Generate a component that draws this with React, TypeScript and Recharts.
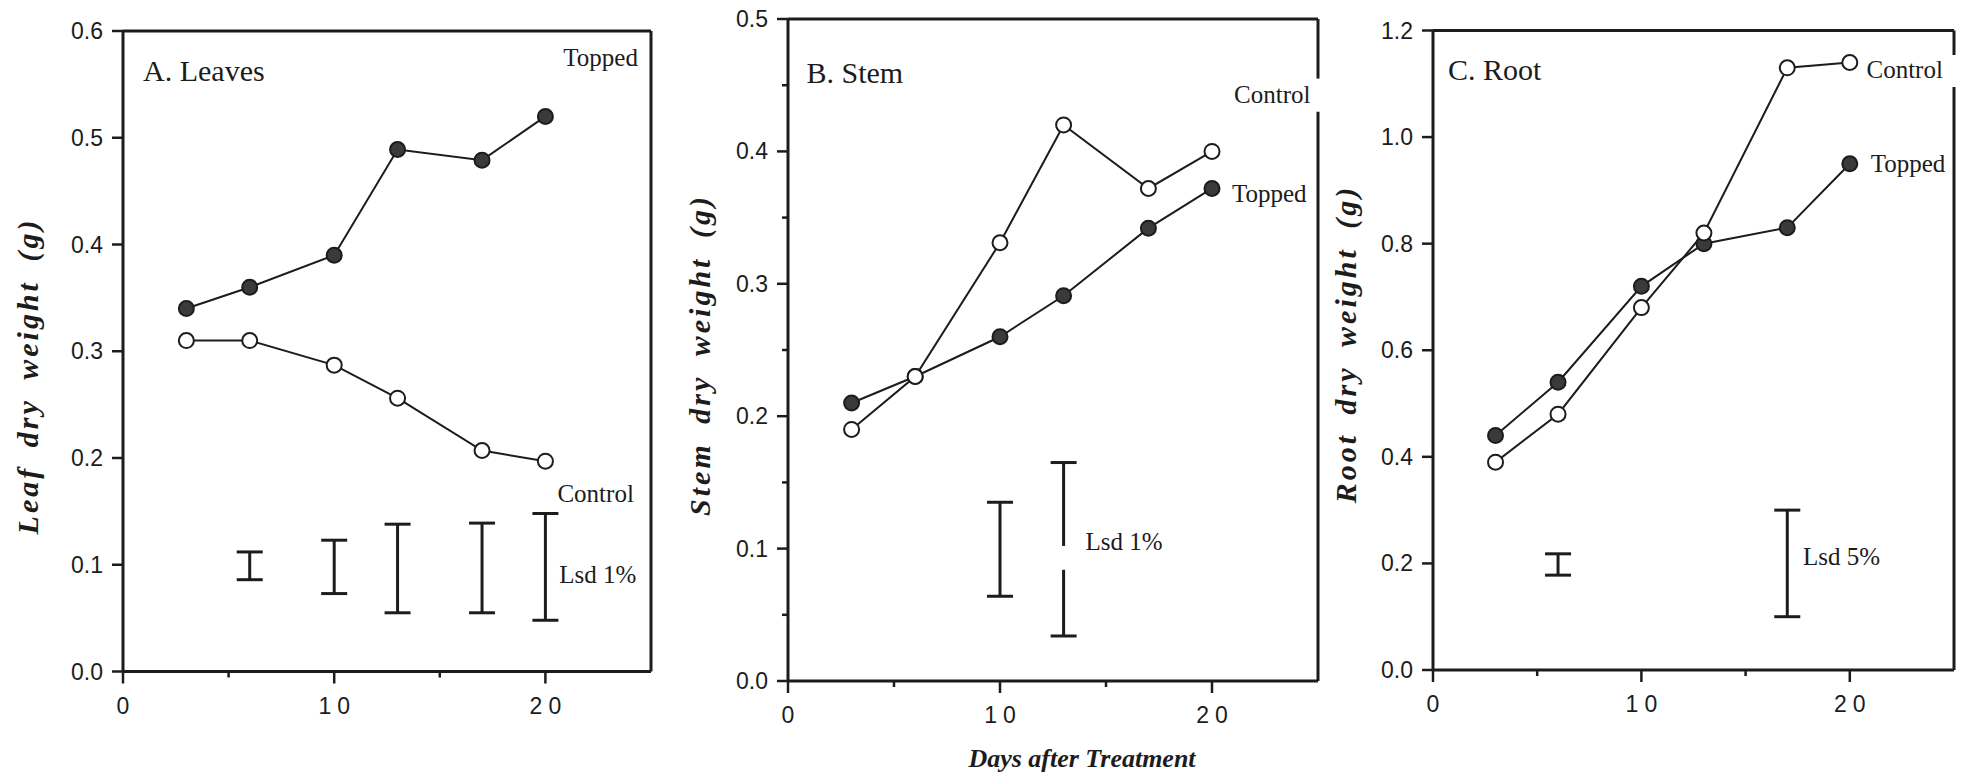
import React from 'react';
import {
  ComposedChart,
  Line,
  Scatter,
  ErrorBar,
  XAxis,
  YAxis,
  ReferenceLine,
  ReferenceDot,
} from 'recharts';

// sampling days (same for all three panels)
const days = [3, 6, 10, 13, 17, 20];

const leafTopped = [0.34, 0.36, 0.39, 0.489, 0.479, 0.52];
const leafControl = [0.31, 0.31, 0.287, 0.256, 0.207, 0.197];
const stemTopped = [0.21, 0.23, 0.26, 0.291, 0.342, 0.372];
const stemControl = [0.19, 0.23, 0.331, 0.42, 0.372, 0.4];
const rootTopped = [0.44, 0.54, 0.72, 0.8, 0.83, 0.95];
const rootControl = [0.39, 0.48, 0.68, 0.82, 1.13, 1.14];

// least significant difference bars
const leafLsdDays = [6, 10, 13, 17, 20];
const leafLsdLow = [0.086, 0.073, 0.055, 0.055, 0.048];
const leafLsdHigh = [0.112, 0.123, 0.138, 0.139, 0.148];
const stemLsdDays = [10, 13];
const stemLsdLow = [0.064, 0.034];
const stemLsdHigh = [0.135, 0.165];
const rootLsdDays = [6, 17];
const rootLsdLow = [0.178, 0.1];
const rootLsdHigh = [0.218, 0.3];

const dayTicks = [0, 5, 10, 15, 20];
const dayLabelled = [0, 10, 20];
const leafTicks = [0, 0.1, 0.2, 0.3, 0.4, 0.5, 0.6];
const stemTicks = [0, 0.05, 0.1, 0.15, 0.2, 0.25, 0.3, 0.35, 0.4, 0.45, 0.5];
const stemLabelled = [0, 0.1, 0.2, 0.3, 0.4, 0.5];
const rootTicks = [0, 0.2, 0.4, 0.6, 0.8, 1.0, 1.2];

const INK = '#1c1c1c';
const SANS = '"Liberation Sans", Arial, sans-serif';
const SERIF = '"Liberation Serif", "Times New Roman", serif';

type Note = { text: string; day: number; value: number; size: number };

const leafNotes: Note[] = [
  { text: 'A. Leaves', day: 0.95, value: 0.553, size: 30 },
  { text: 'Topped', day: 20.85, value: 0.567, size: 25 },
  { text: 'Control', day: 20.57, value: 0.159, size: 25 },
  { text: 'Lsd 1%', day: 20.66, value: 0.083, size: 25 },
];
const stemNotes: Note[] = [
  { text: 'B. Stem', day: 0.87, value: 0.452, size: 30 },
  { text: 'Control', day: 21.04, value: 0.4366, size: 25 },
  { text: 'Topped', day: 20.94, value: 0.362, size: 25 },
  { text: 'Lsd 1%', day: 14.03, value: 0.099, size: 25 },
];
const rootNotes: Note[] = [
  { text: 'C. Root', day: 0.72, value: 1.107, size: 30 },
  { text: 'Control', day: 20.8, value: 1.11, size: 25 },
  { text: 'Topped', day: 21.0, value: 0.934, size: 25 },
  { text: 'Lsd 5%', day: 17.75, value: 0.197, size: 25 },
];

const toSeries = (ys: number[]) => days.map((day, i) => ({ day, v: ys[i] }));
const toLsd = (ds: number[], lo: number[], hi: number[]) =>
  ds.map((day, i) => ({ day, mid: (lo[i] + hi[i]) / 2, err: (hi[i] - lo[i]) / 2 }));

function YTick(props: any) {
  const { x, y, payload, labelled } = props;
  const major = labelled.includes(payload.value);
  return (
    <g>
      <line x1={x - (major ? 11 : 6)} x2={x} y1={y} y2={y} stroke={INK} strokeWidth={2.5} />
      {major && (
        <text x={x - 20} y={y} dy={8} textAnchor="end" fontFamily={SANS} fontSize={23} fill={INK}>
          {payload.value.toFixed(1)}
        </text>
      )}
    </g>
  );
}

function XTick(props: any) {
  const { x, y, payload } = props;
  const major = dayLabelled.includes(payload.value);
  return (
    <g>
      <line x1={x} x2={x} y1={y} y2={y + (major ? 12 : 6)} stroke={INK} strokeWidth={2.5} />
      {major && (
        <text
          x={x}
          y={y + 42}
          dx={3}
          textAnchor="middle"
          fontFamily={SANS}
          fontSize={23}
          fill={INK}
          style={{ letterSpacing: 6 }}
        >
          {payload.value}
        </text>
      )}
    </g>
  );
}

function YTitle({ text, px, py }: { text: string; px: number; py: number }) {
  return (
    <text
      x={px}
      y={py}
      transform={`rotate(-90, ${px}, ${py})`}
      textAnchor="middle"
      fontFamily={SERIF}
      fontStyle="italic"
      fontWeight="bold"
      fontSize={30}
      fill={INK}
      style={{ letterSpacing: 3, wordSpacing: 8 }}
    >
      {text}
    </text>
  );
}

function XTitle({ text, px, py }: { text: string; px: number; py: number }) {
  return (
    <text
      x={px}
      y={py}
      textAnchor="middle"
      fontFamily={SERIF}
      fontStyle="italic"
      fontWeight="bold"
      fontSize={26}
      fill={INK}
    >
      {text}
    </text>
  );
}

type PanelProps = {
  left: number;
  width: number;
  margin: { top: number; right: number; bottom: number; left: number };
  yWidth: number;
  yMax: number;
  yTicks: number[];
  yLabelled: number[];
  topped: number[];
  control: number[];
  lsd: { day: number; mid: number; err: number }[];
  notes: Note[];
  yTitle: string;
  yTitleAt: [number, number];
  rightBorder: [number, number][];
  xTitle?: { text: string; at: [number, number] };
  gaps?: [number, number, number][];
};

function Panel(p: PanelProps) {
  return (
    <div style={{ position: 'absolute', left: p.left, top: 0 }}>
      <ComposedChart width={p.width} height={784} margin={p.margin}>
        <XAxis
          dataKey="day"
          type="number"
          domain={[0, 25]}
          ticks={dayTicks}
          interval={0}
          height={60}
          tickSize={0}
          tickMargin={0}
          tickLine={false}
          axisLine={{ stroke: INK, strokeWidth: 3 }}
          tick={<XTick />}
          label={p.xTitle ? <XTitle text={p.xTitle.text} px={p.xTitle.at[0]} py={p.xTitle.at[1]} /> : undefined}
        />
        <YAxis
          type="number"
          domain={[0, p.yMax]}
          ticks={p.yTicks}
          interval={0}
          width={p.yWidth}
          tickSize={0}
          tickMargin={0}
          tickLine={false}
          axisLine={{ stroke: INK, strokeWidth: 3 }}
          tick={<YTick labelled={p.yLabelled} />}
          label={<YTitle text={p.yTitle} px={p.yTitleAt[0]} py={p.yTitleAt[1]} />}
        />
        <ReferenceLine y={p.yMax} stroke={INK} strokeWidth={3} />
        {p.rightBorder.map(([a, b], i) => (
          <ReferenceLine
            key={`rb${i}`}
            segment={[{ x: 25, y: a }, { x: 25, y: b }]}
            stroke={INK}
            strokeWidth={3}
            ifOverflow="visible"
          />
        ))}
        <Scatter data={p.lsd} dataKey="mid" shape={() => null} isAnimationActive={false}>
          <ErrorBar dataKey="err" direction="y" width={13} stroke={INK} strokeWidth={3} />
        </Scatter>
        {(p.gaps || []).map(([d, a, b], i) => (
          <ReferenceLine
            key={`gap${i}`}
            segment={[{ x: d, y: a }, { x: d, y: b }]}
            stroke="#fff"
            strokeWidth={7}
          />
        ))}
        <Line
          data={toSeries(p.topped)}
          dataKey="v"
          stroke={INK}
          strokeWidth={2}
          dot={{ r: 7.5, fill: '#3a3a3a', stroke: INK, strokeWidth: 2 }}
          isAnimationActive={false}
        />
        <Line
          data={toSeries(p.control)}
          dataKey="v"
          stroke={INK}
          strokeWidth={2}
          dot={{ r: 7.5, fill: '#fff', stroke: INK, strokeWidth: 2 }}
          isAnimationActive={false}
        />
        {p.notes.map((n) => (
          <ReferenceDot
            key={n.text}
            x={n.day}
            y={n.value}
            r={0}
            ifOverflow="visible"
            shape={(s: any) => (
              <text x={s.cx} y={s.cy} fontFamily={SERIF} fontSize={n.size} fill={INK}>
                {n.text}
              </text>
            )}
          />
        ))}
      </ComposedChart>
    </div>
  );
}

export default function App() {
  return (
    <div style={{ position: 'absolute', left: 0, top: 0, width: 1968, height: 784, background: '#fff' }}>
      <Panel
        left={0}
        width={660}
        margin={{ top: 31, right: 9, bottom: 52.5, left: 0 }}
        yWidth={123}
        yMax={0.6}
        yTicks={leafTicks}
        yLabelled={leafTicks}
        topped={leafTopped}
        control={leafControl}
        lsd={toLsd(leafLsdDays, leafLsdLow, leafLsdHigh)}
        notes={leafNotes}
        yTitle="Leaf dry weight (g)"
        yTitleAt={[38, 376]}
        rightBorder={[[0, 0.6]]}
      />
      <Panel
        left={660}
        width={660}
        margin={{ top: 19, right: 2, bottom: 43, left: 0 }}
        yWidth={128}
        yMax={0.5}
        yTicks={stemTicks}
        yLabelled={stemLabelled}
        topped={stemTopped}
        control={stemControl}
        lsd={toLsd(stemLsdDays, stemLsdLow, stemLsdHigh)}
        notes={stemNotes}
        yTitle="Stem dry weight (g)"
        yTitleAt={[50, 355]}
        rightBorder={[[0, 0.43], [0.455, 0.5]]}
        gaps={[[13, 0.084, 0.102]]}
        xTitle={{ text: 'Days after Treatment', at: [422, 767] }}
      />
      <Panel
        left={1320}
        width={648}
        margin={{ top: 30.5, right: 14, bottom: 54, left: 0 }}
        yWidth={113}
        yMax={1.2}
        yTicks={rootTicks}
        yLabelled={rootTicks}
        topped={rootTopped}
        control={rootControl}
        lsd={toLsd(rootLsdDays, rootLsdLow, rootLsdHigh)}
        notes={rootNotes}
        yTitle="Root dry weight (g)"
        yTitleAt={[36, 344]}
        rightBorder={[[0, 1.094], [1.154, 1.2]]}
      />
    </div>
  );
}
